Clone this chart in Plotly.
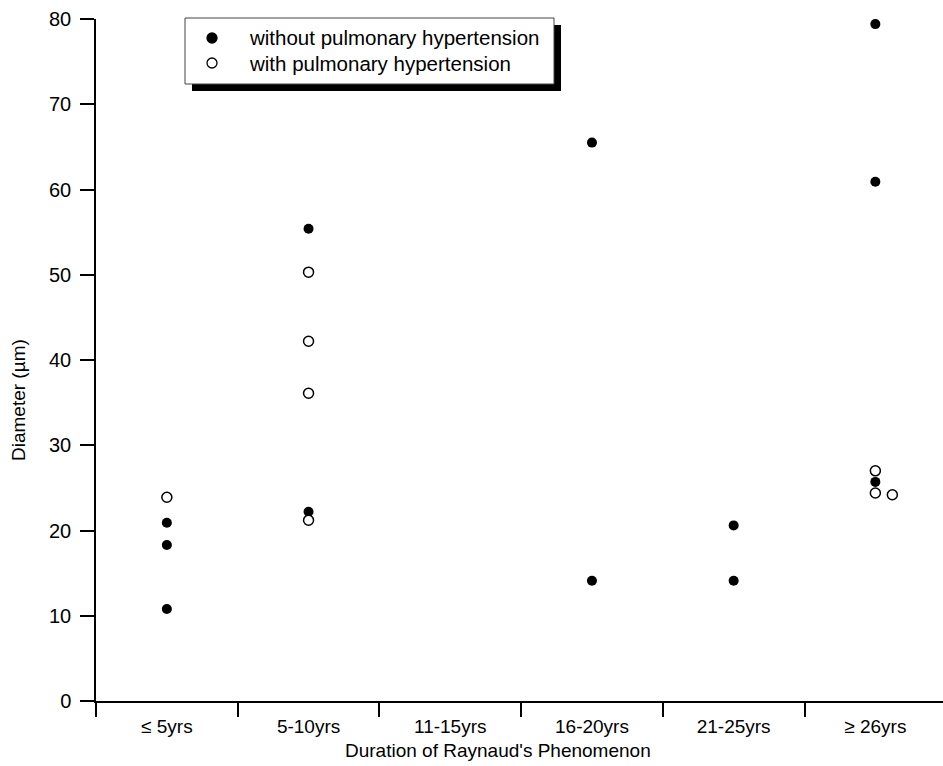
import plotly.graph_objects as go

categories = ["≤ 5yrs", "5-10yrs", "11-15yrs", "16-20yrs", "21-25yrs", "≥ 26yrs"]

# without pulmonary hypertension (filled)
without_cat = [0, 0, 0, 1, 1, 3, 3, 4, 4, 5, 5, 5]
without_offset = [0, 0, 0, 0, 0, 0, 0, 0, 0, 0, 0, 0]
without_val = [20.9, 18.3, 10.8, 55.4, 22.2, 65.5, 14.1, 20.6, 14.1, 79.4, 60.9, 25.7]

# with pulmonary hypertension (open)
with_cat = [0, 1, 1, 1, 1, 5, 5, 5]
with_offset = [0, 0, 0, 0, 0, 0, 0, 0.12]
with_val = [23.9, 50.3, 42.2, 36.1, 21.2, 27.0, 24.4, 24.2]

series_names = ["without pulmonary hypertension", "with pulmonary hypertension"]
x_title = "Duration of Raynaud's Phenomenon"
y_title = "Diameter (µm)"

W, H = 943, 766
ML, MR, MT, MB = 96, 0, 19, 65
PW = W - ML - MR
PH = H - MT - MB

def px_x(p):
    return (p - ML) / PW

def px_y(p):
    return (H - MB - p) / PH

FONT = "Liberation Sans, Arial, sans-serif"

fig = go.Figure()
fig.add_trace(go.Scatter(
    x=[c + o for c, o in zip(without_cat, without_offset)], y=without_val,
    mode="markers", name=series_names[0],
    marker=dict(symbol="circle", size=10, color="black", line=dict(width=0)),
    cliponaxis=False, showlegend=False,
))
fig.add_trace(go.Scatter(
    x=[c + o for c, o in zip(with_cat, with_offset)], y=with_val,
    mode="markers", name=series_names[1],
    marker=dict(symbol="circle", size=10, color="white", line=dict(width=1.5, color="black")),
    cliponaxis=False, showlegend=False,
))

# ---- legend box drawn by hand (box with drop shadow) ----
lx0, lx1, ly0, ly1 = 185, 554, 18, 84
shadow_dx, shadow_dy = 7, 7
fig.add_shape(type="rect", xref="paper", yref="paper",
              x0=px_x(lx0 + shadow_dx), x1=px_x(lx1 + shadow_dx),
              y0=px_y(ly1 + shadow_dy), y1=px_y(ly0 + shadow_dy),
              fillcolor="black", line=dict(width=0), layer="above")
fig.add_shape(type="rect", xref="paper", yref="paper",
              x0=px_x(lx0), x1=px_x(lx1), y0=px_y(ly1), y1=px_y(ly0),
              fillcolor="white", line=dict(width=1, color="#444"), layer="above")
legend_rows = [38, 63]
legend_fill = ["black", "white"]
for row_y, name, fill in zip(legend_rows, series_names, legend_fill):
    fig.add_shape(type="circle", xref="paper", yref="paper",
                  xsizemode="pixel", ysizemode="pixel",
                  xanchor=px_x(212), yanchor=px_y(row_y),
                  x0=-5, x1=5, y0=-5, y1=5,
                  fillcolor=fill, line=dict(width=1.3, color="black"), layer="above")
    fig.add_annotation(x=px_x(247), y=px_y(row_y), xref="paper", yref="paper",
                       xanchor="left", yanchor="middle", showarrow=False,
                       text=name, font=dict(size=20.5, family=FONT, color="black"))

# axis titles
fig.add_annotation(x=px_x(498), y=px_y(750), xref="paper", yref="paper",
                   xanchor="center", yanchor="middle", showarrow=False,
                   text=x_title, font=dict(size=19, family=FONT, color="black"))
fig.add_annotation(x=px_x(19), y=px_y(400), xref="paper", yref="paper",
                   xanchor="center", yanchor="middle", showarrow=False, textangle=-90,
                   text=y_title, font=dict(size=19, family=FONT, color="black"))

boundaries = [i - 0.5 for i in range(len(categories) + 1)]

fig.update_layout(
    width=W, height=H,
    margin=dict(l=ML, r=MR, t=MT, b=MB),
    paper_bgcolor="white", plot_bgcolor="white",
    font=dict(family=FONT, size=20, color="black"),
    showlegend=False,
    xaxis=dict(
        range=[-0.5, -0.5 + PW / 141.7],
        tickmode="array", tickvals=list(range(len(categories))), ticktext=categories,
        ticks="", showgrid=False, zeroline=False,
        showline=True, linecolor="black", linewidth=1.5,
        ticklabelstandoff=7,
        tickfont=dict(size=19),
        minor=dict(tickmode="array", tickvals=boundaries, ticks="outside",
                   ticklen=14, tickwidth=1.5, tickcolor="black", showgrid=False),
    ),
    yaxis=dict(
        range=[0, 80], tickmode="linear", tick0=0, dtick=10,
        ticks="outside", ticklen=14, tickwidth=1.5, tickcolor="black",
        showgrid=False, zeroline=False,
        showline=True, linecolor="black", linewidth=1.5,
        ticklabelstandoff=5,
        tickfont=dict(size=20),
    ),
)

fig.write_html("out.html")
